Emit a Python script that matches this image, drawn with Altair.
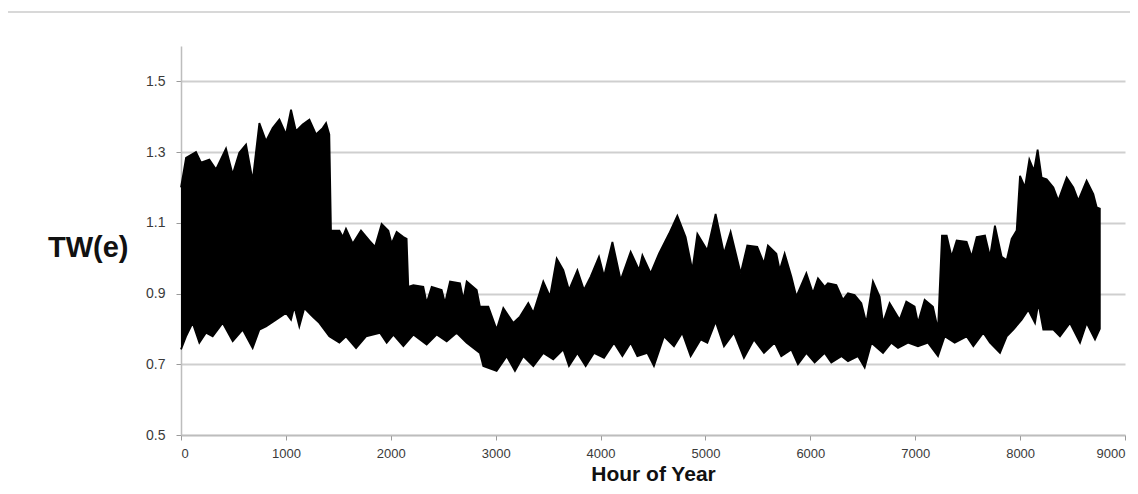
import altair as alt
import pandas as pd

# Upper envelope of the hourly TW(e) series (hour, value)
UPPER_HOURS = [0, 48, 143, 191, 270, 334, 429, 493, 556, 620, 683, 747, 810, 874, 938,
               1001, 1049, 1096, 1160, 1224, 1287, 1351, 1383, 1414, 1430, 1510, 1542,
               1573, 1637, 1716, 1796, 1850, 1913, 1977, 2008, 2056, 2120, 2151, 2167,
               2215, 2310, 2342, 2390, 2485, 2517, 2565, 2660, 2692, 2724, 2819, 2850,
               2930, 3009, 3073, 3168, 3232, 3311, 3359, 3454, 3518, 3582, 3645, 3699,
               3779, 3842, 3906, 3985, 4033, 4113, 4192, 4287, 4367, 4399, 4478, 4557,
               4653, 4732, 4811, 4875, 4923, 5018, 5097, 5177, 5240, 5336, 5399, 5494,
               5558, 5596, 5676, 5708, 5755, 5819, 5867, 5962, 6025, 6073, 6137, 6168,
               6248, 6311, 6359, 6422, 6486, 6534, 6597, 6661, 6693, 6756, 6851, 6915,
               6994, 7026, 7090, 7169, 7217, 7255, 7300, 7347, 7395, 7490, 7538, 7586,
               7665, 7713, 7760, 7824, 7872, 7919, 7967, 7999, 8046, 8088, 8132, 8167,
               8205, 8253, 8317, 8364, 8444, 8507, 8555, 8634, 8698, 8730, 8760]
UPPER_TW = [1.200, 1.284, 1.300, 1.270, 1.279, 1.251, 1.310, 1.237, 1.298, 1.321, 1.219,
            1.382, 1.331, 1.368, 1.392, 1.350, 1.420, 1.359, 1.378, 1.392, 1.350, 1.368,
            1.382, 1.350, 1.078, 1.078, 1.060, 1.083, 1.041, 1.078, 1.050, 1.032, 1.097,
            1.078, 1.041, 1.074, 1.060, 1.055, 0.919, 0.924, 0.919, 0.873, 0.919, 0.910,
            0.873, 0.934, 0.929, 0.882, 0.934, 0.910, 0.863, 0.863, 0.798, 0.859, 0.817,
            0.835, 0.873, 0.845, 0.934, 0.891, 0.999, 0.966, 0.910, 0.966, 0.910, 0.948,
            1.004, 0.948, 1.046, 0.938, 1.018, 0.966, 1.008, 0.957, 1.013, 1.069, 1.120,
            1.060, 0.966, 1.069, 1.022, 1.125, 1.013, 1.074, 0.957, 1.036, 1.032, 0.985,
            1.036, 1.013, 0.966, 1.013, 0.948, 0.891, 0.957, 0.901, 0.943, 0.919, 0.929,
            0.924, 0.882, 0.901, 0.896, 0.873, 0.817, 0.934, 0.891, 0.817, 0.873, 0.826,
            0.877, 0.863, 0.817, 0.882, 0.863, 0.798, 1.064, 1.064, 1.004, 1.050, 1.046,
            1.004, 1.060, 1.064, 1.004, 1.092, 1.004, 0.994, 1.055, 1.078, 1.233, 1.200,
            1.279, 1.247, 1.307, 1.228, 1.223, 1.200, 1.163, 1.228, 1.200, 1.163, 1.219,
            1.181, 1.144, 1.140]

# Lower envelope of the same series
LOWER_HOURS = [0, 48, 111, 175, 238, 302, 397, 493, 588, 683, 747, 810, 906, 1001, 1049,
               1080, 1128, 1176, 1255, 1319, 1414, 1510, 1573, 1669, 1764, 1897, 1961,
               2025, 2120, 2215, 2342, 2437, 2533, 2628, 2724, 2850, 2882, 3009, 3105,
               3184, 3263, 3359, 3454, 3549, 3645, 3699, 3779, 3858, 3937, 4033, 4128,
               4208, 4287, 4351, 4446, 4509, 4605, 4700, 4779, 4859, 4954, 5018, 5097,
               5177, 5272, 5367, 5462, 5558, 5660, 5723, 5819, 5882, 5962, 6041, 6137,
               6200, 6296, 6359, 6454, 6518, 6582, 6693, 6772, 6836, 6931, 7026, 7122,
               7217, 7281, 7376, 7490, 7554, 7649, 7713, 7808, 7872, 7935, 8015, 8078,
               8142, 8174, 8221, 8317, 8380, 8475, 8571, 8634, 8714, 8760]
LOWER_TW = [0.742, 0.779, 0.817, 0.761, 0.789, 0.779, 0.817, 0.765, 0.798, 0.746, 0.798,
            0.807, 0.826, 0.845, 0.826, 0.863, 0.807, 0.859, 0.835, 0.817, 0.779, 0.761,
            0.779, 0.746, 0.779, 0.789, 0.761, 0.784, 0.751, 0.784, 0.756, 0.784, 0.765,
            0.789, 0.761, 0.732, 0.695, 0.681, 0.723, 0.681, 0.723, 0.695, 0.732, 0.714,
            0.742, 0.695, 0.732, 0.695, 0.732, 0.718, 0.761, 0.723, 0.761, 0.723, 0.732,
            0.695, 0.779, 0.751, 0.789, 0.723, 0.770, 0.761, 0.821, 0.751, 0.789, 0.718,
            0.770, 0.732, 0.761, 0.723, 0.742, 0.700, 0.732, 0.705, 0.732, 0.705, 0.723,
            0.709, 0.723, 0.691, 0.761, 0.732, 0.761, 0.746, 0.761, 0.751, 0.761, 0.723,
            0.779, 0.761, 0.779, 0.751, 0.789, 0.761, 0.732, 0.779, 0.798, 0.826, 0.854,
            0.817, 0.873, 0.798, 0.798, 0.779, 0.817, 0.761, 0.817, 0.770, 0.800]

X_TICKS = [0, 1000, 2000, 3000, 4000, 5000, 6000, 7000, 8000, 9000]
Y_TICKS = [0.5, 0.7, 0.9, 1.1, 1.3, 1.5]
X_TITLE = "Hour of Year"
Y_TITLE = "TW(e)"

# closed outline: upper edge left->right, then lower edge right->left
rows = []
for h, v in zip(UPPER_HOURS, UPPER_TW):
    rows.append({"hour": h, "tw": v, "k": len(rows)})
for h, v in zip(reversed(LOWER_HOURS), reversed(LOWER_TW)):
    rows.append({"hour": h, "tw": v, "k": len(rows)})
df = pd.DataFrame(rows)

FONT = "Liberation Sans"

x_enc = alt.X(
    "hour:Q",
    scale=alt.Scale(domain=[0, 9000], nice=False, zero=False),
    axis=alt.Axis(
        values=X_TICKS, format="d", title=X_TITLE, grid=False,
        domainColor="#bdbdbd", domainWidth=1.5,
        tickColor="#9a9a9a", tickSize=5, labelPadding=7,
        labelFont=FONT, labelFontSize=13, labelColor="#3a3a3a",
        titleFont=FONT, titleFontSize=21, titleFontWeight="bold", titleColor="#111111",
        titleBaseline="middle", titleY=39,
    ),
)
y_enc = alt.Y(
    "tw:Q",
    scale=alt.Scale(domain=[0.5, 1.6], nice=False, zero=False),
    axis=alt.Axis(
        values=Y_TICKS, format=".1f", title=Y_TITLE, grid=True,
        gridColor="#cfcfcf", gridWidth=2,
        domainColor="#bdbdbd", domainWidth=1.5,
        tickColor="#9a9a9a", tickSize=5, labelPadding=11,
        labelFont=FONT, labelFontSize=14, labelColor="#3a3a3a",
        titleFont=FONT, titleFontSize=29, titleFontWeight="bold", titleColor="#111111",
        titleAngle=0, titleAlign="right", titleBaseline="middle",
        titleX=-53, titleY=201,
    ),
)

band = alt.Chart(df).mark_line(
    filled=True, fill="black", stroke="black", strokeWidth=1.8, strokeJoin="miter"
).encode(x=x_enc, y=y_enc, order=alt.Order("k:Q"))

frame = alt.Chart(pd.DataFrame({"f": [0]})).mark_rect(
    fill="transparent", stroke="#cccccc", strokeWidth=1.5
).encode(
    x=alt.value(-174), x2=alt.value(954), y=alt.value(-34), y2=alt.value(470)
)

chart = alt.layer(frame, band).properties(
    width=944, height=389,
    padding={"left": 173, "top": 38, "right": 5, "bottom": 51},
    autosize=alt.AutoSizeParams(type="none"),
    background="white",
).configure_view(stroke=None)

chart.save("out.html", embed_options={"renderer": "svg", "actions": False})
